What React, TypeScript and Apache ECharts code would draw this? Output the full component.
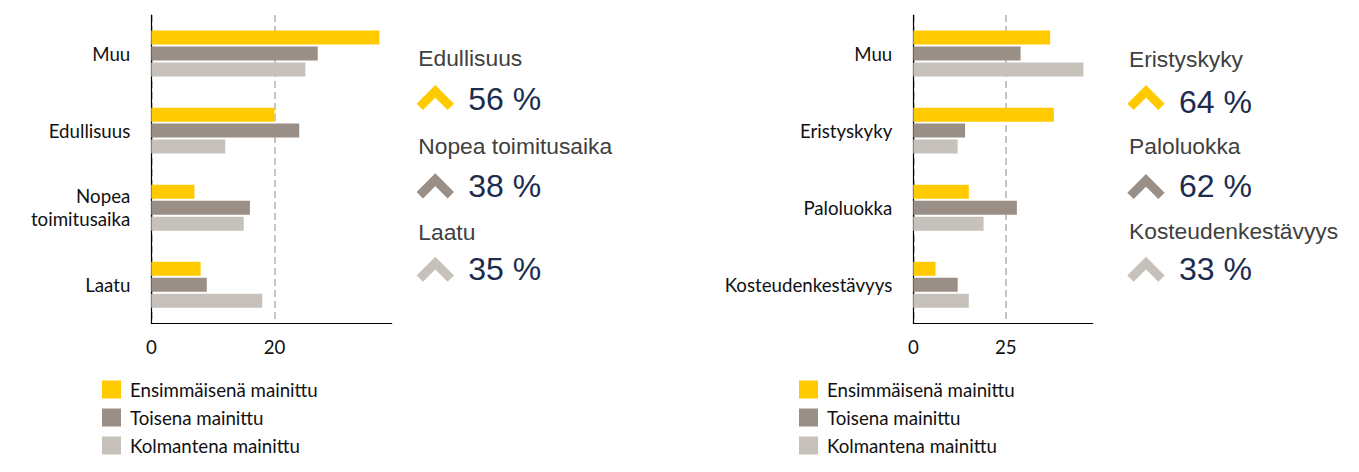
import React from "react";
import * as echarts from "echarts";

const seriesNames = ["Ensimmäisenä mainittu", "Toisena mainittu", "Kolmantena mainittu"];
const colors = ["#FFCB00", "#998F86", "#C6C2BB"];

const leftCategories = ["Muu", "Edullisuus", "Nopea\ntoimitusaika", "Laatu"];
const leftFirst = [37, 20, 7, 8];
const leftSecond = [27, 24, 16, 9];
const leftThird = [25, 12, 15, 18];

const rightCategories = ["Muu", "Eristyskyky", "Paloluokka", "Kosteudenkestävyys"];
const rightFirst = [37, 38, 15, 6];
const rightSecond = [29, 14, 28, 12];
const rightThird = [46, 12, 19, 15];

const leftKpiLabels = ["Edullisuus", "Nopea toimitusaika", "Laatu"];
const leftKpiValues = ["56 %", "38 %", "35 %"];
const rightKpiLabels = ["Eristyskyky", "Paloluokka", "Kosteudenkestävyys"];
const rightKpiValues = ["64 %", "62 %", "33 %"];

const labelFont = "Lato, 'Noto Sans', sans-serif";
const kpiFont = "'Liberation Sans', Arial, sans-serif";
const labelSize = 18.7;

const makeAxis = (gridIndex: number, max: number, interval: number) => ({
    type: "value",
    gridIndex,
    min: 0,
    max,
    interval,
    axisLine: { show: true, lineStyle: { color: "#000", width: 1.2 } },
    axisTick: { show: false },
    axisLabel: {
        color: "#111",
        fontSize: labelSize,
        fontFamily: labelFont,
        margin: 14,
        showMaxLabel: false,
        formatter: (v: number) => (v % interval === 0 ? String(v) : ""),
    },
    splitLine: {
        show: true,
        showMaxLine: false,
        lineStyle: { color: "#b3b3b3", width: 1.5, type: [7, 4] },
    },
});

const makeCatAxis = (gridIndex: number, data: string[]) => ({
    type: "category",
    gridIndex,
    data,
    inverse: true,
    axisLine: { show: true, lineStyle: { color: "#000", width: 1.2 } },
    axisTick: { show: false },
    axisLabel: {
        color: "#111",
        fontSize: labelSize,
        fontFamily: labelFont,
        margin: 21,
        lineHeight: 23,
        align: "right",
    },
});

const makeBars = (axisIndex: number, sets: number[][]) =>
    sets.map((data, i) => ({
        name: seriesNames[i],
        type: "bar",
        xAxisIndex: axisIndex,
        yAxisIndex: axisIndex,
        barWidth: 14,
        barGap: "14%",
        itemStyle: { color: colors[i] },
        data,
    }));

const chevron = (cx: number, top: number, color: string) => ({
    type: "polyline",
    shape: {
        points: [
            [cx - 15.5, top + 21.9],
            [cx, top + 6.4],
            [cx + 15.5, top + 21.9],
        ],
    },
    style: { stroke: color, lineWidth: 9, fill: null, lineCap: "butt", lineJoin: "miter" },
});

// y values are the text middles (vertical centre of the line box)
const kpiBlock = (
    x: number,
    labels: string[],
    values: string[],
    labelMid: number[],
    valueMid: number[],
    chevTop: number[]
) => {
    const items: any[] = [];
    labels.forEach((label, i) => {
        items.push({
            type: "text",
            x: x,
            y: labelMid[i],
            style: {
                text: label,
                font: `22.8px ${kpiFont}`,
                fill: "#404040",
                verticalAlign: "middle",
            },
        });
        items.push(chevron(x + 17, chevTop[i], colors[i]));
        items.push({
            type: "text",
            x: x + 50,
            y: valueMid[i],
            style: {
                text: values[i],
                font: `32px ${kpiFont}`,
                fill: "#1B2C4E",
                verticalAlign: "middle",
            },
        });
    });
    return items;
};

const makeLegend = (left: number) => ({
    orient: "vertical",
    left,
    top: 375,
    icon: "rect",
    itemWidth: 19,
    itemHeight: 18,
    itemGap: 9,
    selectedMode: false,
    data: seriesNames,
    textStyle: {
        color: "#111",
        fontSize: labelSize,
        fontFamily: labelFont,
        padding: [0, 0, 0, 4],
    },
});

const App: React.FC = () => {
    const chartRef = React.useRef<HTMLDivElement>(null);

    React.useEffect(() => {
        if (!chartRef.current) return;
        const chart = echarts.init(chartRef.current, undefined, { renderer: "svg" });

        const option = {
            animation: false,
            grid: [
                { left: 151.3, top: 15, width: 240.4, height: 308.3, containLabel: false },
                { left: 913.3, top: 15, width: 179.4, height: 308.3, containLabel: false },
            ],
            xAxis: [makeAxis(0, 39, 20), makeAxis(1, 48.5, 25)],
            yAxis: [makeCatAxis(0, leftCategories), makeCatAxis(1, rightCategories)],
            legend: [makeLegend(97), makeLegend(794)],
            series: [
                ...makeBars(0, [leftFirst, leftSecond, leftThird]),
                ...makeBars(1, [rightFirst, rightSecond, rightThird]),
            ],
            graphic: [
                ...kpiBlock(418.3, leftKpiLabels, leftKpiValues, [58.2, 146.2, 231.6], [98.9, 185.6, 268.9], [85, 173.3, 256.7]),
                ...kpiBlock(1129, rightKpiLabels, rightKpiValues, [59.2, 146.2, 230.6], [102.2, 185.6, 268.9], [85, 174, 256.7]),
            ],
        };

        chart.setOption(option as any);

        return () => {
            chart.dispose();
        };
    }, []);

    return (
        <div
            ref={chartRef}
            style={{ position: "fixed", left: 0, top: 0, width: "1359px", height: "472px", background: "#fff" }}
        />
    );
};

export default App;
